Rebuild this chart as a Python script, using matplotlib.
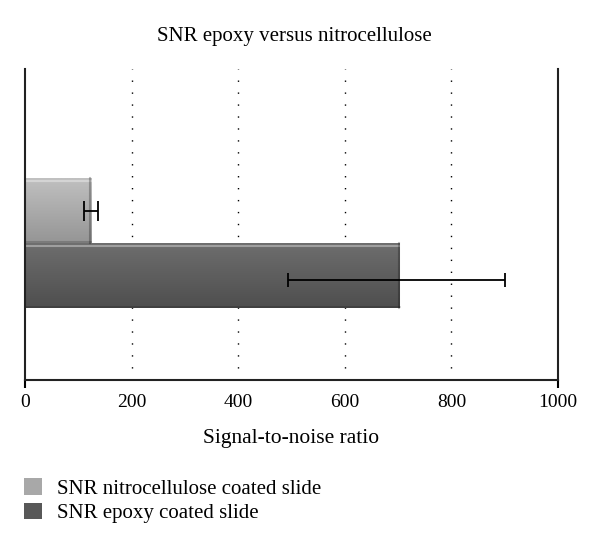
import numpy as np
import matplotlib.pyplot as plt
from matplotlib.patches import Patch

plt.rcParams['font.family'] = ['Liberation Serif', 'DejaVu Serif']

# data
series = ['SNR nitrocellulose coated slide', 'SNR epoxy coated slide']
snr = [124, 703]
snr_err = [13, 204]
err_center = [124, 697]
xticks = [0, 200, 400, 600, 800, 1000]

# styling (light gradient bars, grey levels top -> bottom)
grads = [('#c0c0c0', '#959595'), ('#6e6e6e', '#4e4e4e')]
legend_cols = ['#a8a8a8', '#585858']
bar_pos = [1, 0]
err_offset = [0, -0.07]

fig = plt.figure(figsize=(6, 5.47), dpi=100)
ax = fig.add_axes([25/600, 1 - 380/547, (558 - 25)/600, (380 - 69)/547])

def hex2rgb(h):
    h = h.lstrip('#')
    return np.array([int(h[i:i+2], 16) / 255 for i in (0, 2, 4)])

for i in range(len(series)):
    b = ax.barh(bar_pos[i], snr[i], height=1.0, color=grads[i][1], edgecolor='none', zorder=2)[0]
    # vertical gradient clipped to the bar
    top, bot = hex2rgb(grads[i][0]), hex2rgb(grads[i][1])
    t = np.linspace(0, 1, 64)[:, None]
    img = (top * (1 - t) + bot * t)[:, None, :]
    im = ax.imshow(img, extent=[0, snr[i], bar_pos[i] - 0.5, bar_pos[i] + 0.5],
                   aspect='auto', origin='upper', zorder=2.1)
    im.set_clip_path(b)
    # bevel highlight / shadow edges
    ax.plot([0, snr[i]], [bar_pos[i] + 0.46, bar_pos[i] + 0.46], color='white', alpha=0.35, lw=1.5, zorder=2.2)
    ax.plot([snr[i] - 2, snr[i] - 2], [bar_pos[i] - 0.5, bar_pos[i] + 0.5], color='black', alpha=0.25, lw=1.5, zorder=2.2)
    ax.plot([0, snr[i]], [bar_pos[i] - 0.48, bar_pos[i] - 0.48], color='black', alpha=0.2, lw=1.2, zorder=2.2)
    ax.errorbar(err_center[i], bar_pos[i] + err_offset[i], xerr=snr_err[i], fmt='none',
                ecolor='black', elinewidth=1.3, capsize=5 if i == 1 else 7, capthick=1.3, zorder=3)

ax.set_xlim(0, 1000)
ax.set_ylim(-1.61, 3.18)
ax.set_xticks(xticks)
ax.set_yticks([])
for xv in xticks[1:-1]:
    ax.axvline(xv, color='black', linestyle=(0, (1, 7.6)), linewidth=1.0, zorder=1)
ax.tick_params(axis='x', length=6, width=1.5, labelsize=14, pad=4)
for tk in ax.xaxis.get_major_ticks()[1:-1]:
    tk.tick1line.set_visible(False)
ax.spines['top'].set_visible(False)
for s in ['left', 'right', 'bottom']:
    ax.spines[s].set_linewidth(1.5)
    ax.spines[s].set_color('#222222')
    ax.spines[s].set_zorder(4)

ax.set_xlabel('Signal-to-noise ratio', fontsize=15.5, labelpad=13)
fig.text(0.49, 1 - 37/547, 'SNR epoxy versus nitrocellulose', ha='center', va='center', fontsize=15)

handles = [Patch(facecolor=legend_cols[i], edgecolor='none') for i in range(len(series))]
fig.legend(handles, series, loc='upper left', bbox_to_anchor=(24/600, 1 - 478/547),
           frameon=False, fontsize=15, handlelength=0.85, handleheight=0.85,
           handletextpad=0.75, labelspacing=0.2, borderpad=0, borderaxespad=0)

fig.savefig('out.png', dpi=100)
